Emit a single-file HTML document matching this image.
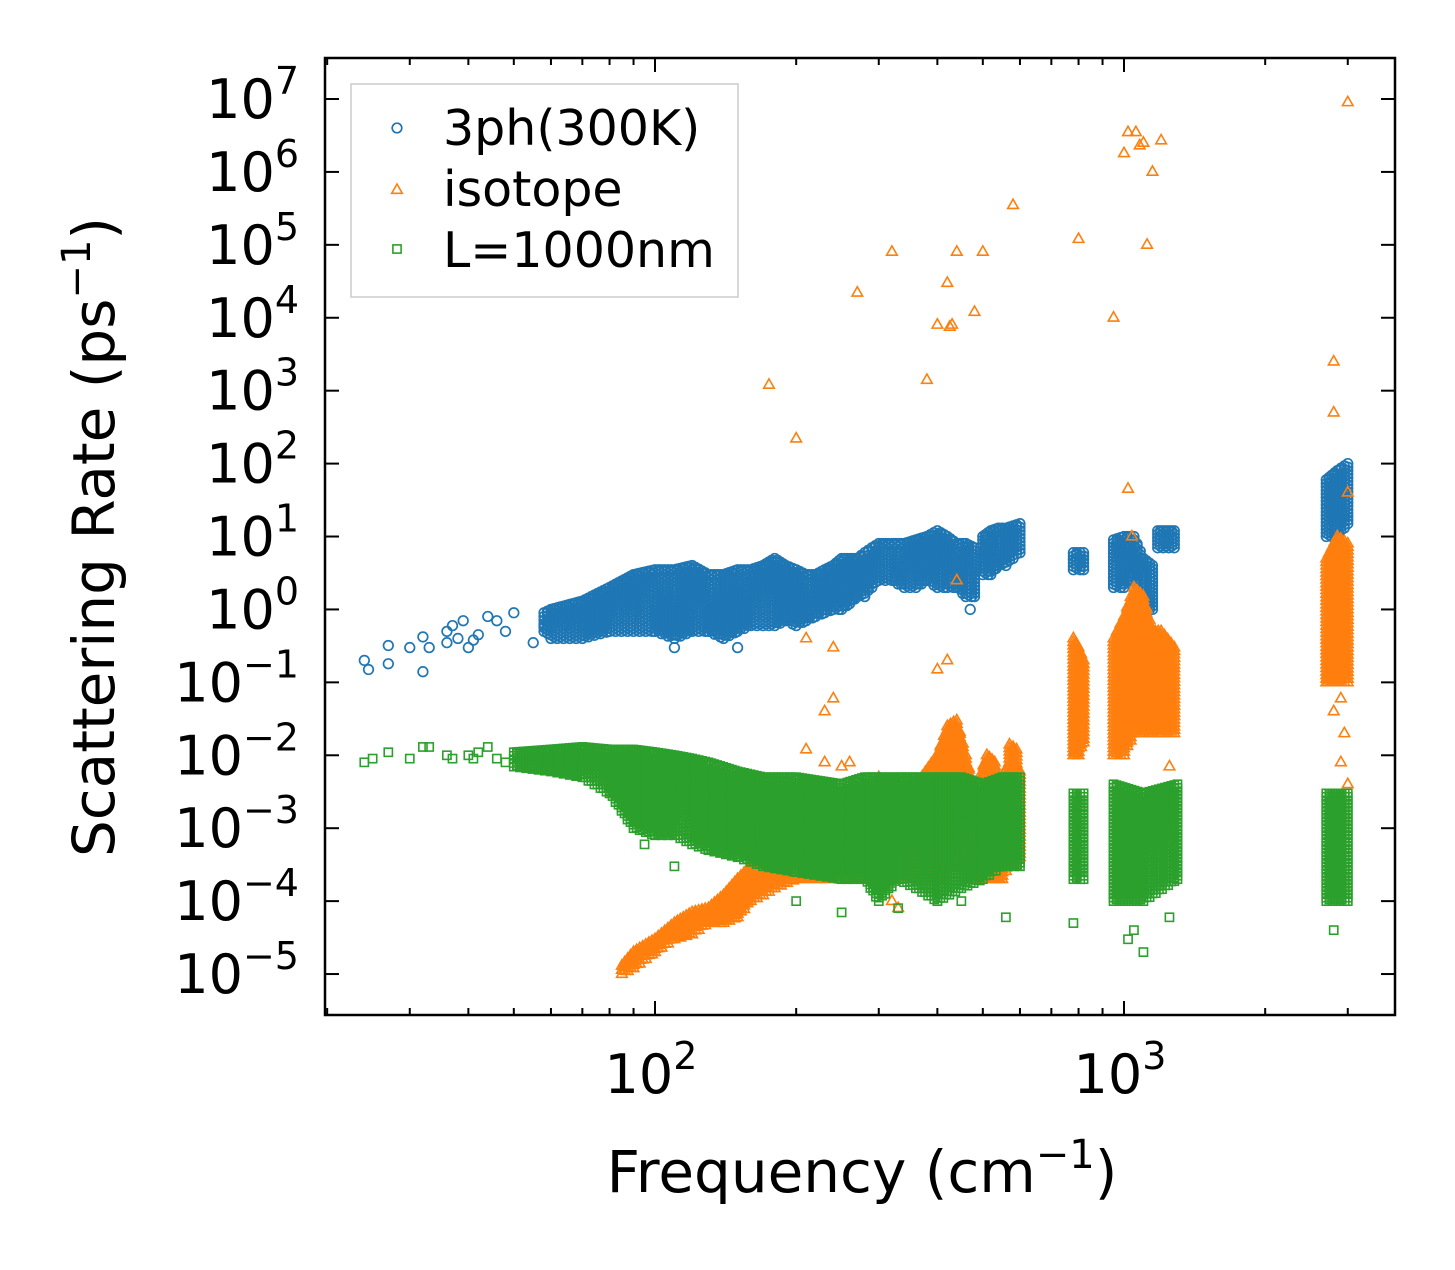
<!DOCTYPE html>
<html><head><meta charset="utf-8"><style>
body{margin:0;background:#fff;}
svg text{font-family:"DejaVu Sans","Liberation Sans",sans-serif;fill:#000;}
</style></head><body>
<svg id="chart" width="1455" height="1265" viewBox="0 0 1455 1265" xmlns="http://www.w3.org/2000/svg">
<g id="marks"></g>
<g id="axes"></g>
</svg>
<script>
// ---- data ----
const xTickExps=[2,3];
const yTickExps=[-5,-4,-3,-2,-1,0,1,2,3,4,5,6,7];
const phSparse=[[24,0.2],[24.5,0.15],[27,0.18],[27,0.32],[30,0.3],[32,0.42],[32,0.14],[33,0.3],[36,0.35],[36,0.5],[37,0.6],[38,0.4],[39,0.7],[40,0.3],[41,0.38],[42,0.45],[44,0.8],[46,0.7],[48,0.5],[50,0.9],[55,0.35],[58,0.6],[150,0.3],[110,0.3],[470,1.0]];
const phCloud1=[[58,0.5,0.9],[60,0.4,1.0],[70,0.4,1.3],[80,0.5,2],[90,0.5,3],[100,0.5,3.5],[110,0.4,3.5],[120,0.5,4],[130,0.5,3],[140,0.4,3],[150,0.5,3.5],[160,0.6,3.5],[170,0.6,4],[180,0.6,5],[190,0.7,4],[200,0.6,3.5],[210,0.7,3],[220,0.8,3],[230,0.9,3.5],[240,1,4],[250,1,5],[260,1.2,5],[270,1.5,5],[280,1.5,6],[290,2,7],[300,2.5,8],[320,2.5,8],[340,2,8],[360,2,9],[380,2.5,10],[400,2,12],[420,2,10],[440,2,8],[460,1.5,8],[480,1.5,7]];
const phCloud2=[[500,3,10],[520,3,12],[540,4,13],[560,4,13],[580,5,14],[600,6,15]];
const phCloud3=[[780,3.5,6],[820,3.5,6]];
const phCloud4=[[950,2,9],[1000,2,10],[1050,3,10],[1100,1,5],[1150,1,4]];
const phCloud5=[[1180,7,12],[1280,7,12]];
const phCloud6=[[2700,10,60],[2850,10,80],[3000,15,100]];
const isoSparse=[[175,1200],[200,220],[270,22000],[320,80000],[380,1400],[400,8000],[420,30000],[425,7500],[430,8000],[440,80000],[480,12000],[500,80000],[580,350000],[800,120000],[950,10000],[1000,1.8e6],[1020,3.5e6],[1060,3.5e6],[1080,2.3e6],[1100,2.5e6],[1120,1e5],[1150,1e6],[1200,2.7e6],[2800,2500],[2800,500],[3000,9e6],[3000,40],[1020,45],[1040,10],[400,0.15],[420,0.2],[440,2.5],[210,0.4],[240,0.3],[230,0.04],[240,0.06],[210,0.012],[230,0.008],[250,0.007],[260,0.008],[2800,0.04],[2900,0.06],[2950,0.02],[2900,0.008],[1250,0.007],[3000,0.004],[330,8e-5],[320,1e-4]];
const isoCloud1=[[85,1e-5,1.3e-5],[90,1.2e-5,2e-5],[100,2e-5,3e-5],[110,3e-5,5e-5],[120,3.5e-5,7e-5],[130,5e-5,8e-5],[140,5e-5,1.2e-4],[150,6e-5,2e-4],[160,1e-4,3e-4],[170,1.2e-4,5e-4],[180,1.5e-4,5e-4],[200,2e-4,6e-4],[250,2e-4,1e-3],[290,2e-4,2e-3],[300,1.5e-4,5e-3],[310,2e-4,2e-3],[350,2e-4,3e-3],[400,2e-4,1e-2],[420,3e-4,2.5e-2],[440,3e-4,3e-2],[460,3e-4,1e-2],[480,2e-4,3e-3],[510,2e-4,1e-2],[530,2e-4,8e-3],[550,2e-4,3e-3],[570,3e-4,1.4e-2],[590,3e-4,1.2e-2],[600,4e-4,6e-3]];
const isoCloud2=[[780,1e-2,0.4],[800,1e-2,0.3],[820,1.5e-2,0.2]];
const isoCloud3=[[950,1e-2,0.4],[1000,1e-2,0.8],[1050,2e-2,2],[1100,2e-2,1.5],[1150,2e-2,0.5],[1200,2e-2,0.5],[1280,2e-2,0.3]];
const isoCloud4=[[2700,0.1,5],[2850,0.1,10],[3000,0.1,8]];
const bSparse=[[24,8e-3],[25,9e-3],[27,1.1e-2],[30,9e-3],[32,1.3e-2],[33,1.3e-2],[36,1e-2],[37,9e-3],[40,1e-2],[41,9e-3],[42,1.1e-2],[44,1.3e-2],[46,9e-3],[48,8e-3],[780,5e-5],[1020,3e-5],[1050,4e-5],[1100,2e-5],[1250,6e-5],[2800,4e-5],[95,6e-4],[110,3e-4],[200,1e-4],[250,7e-5],[330,8e-5],[400,1e-4],[450,1e-4],[560,6e-5]];
const bCloud1=[[50,7e-3,1.1e-2],[60,6e-3,1.2e-2],[70,5e-3,1.3e-2],[80,3e-3,1.2e-2],[90,1e-3,1.2e-2],[100,8e-4,1.1e-2],[110,8e-4,1e-2],[120,6e-4,9e-3],[130,5e-4,8e-3],[150,4e-4,6e-3],[170,3e-4,5e-3],[200,2.5e-4,5e-3],[250,2e-4,4e-3],[280,2e-4,5e-3],[300,1e-4,5e-3],[330,2e-4,5e-3],[360,1.5e-4,5e-3],[400,1e-4,5e-3],[450,1.5e-4,5e-3],[500,2e-4,4e-3],[550,3e-4,5e-3],[600,3e-4,5e-3]];
const bCloud2=[[780,2e-4,3e-3],[820,2e-4,3e-3]];
const bCloud3=[[950,1e-4,4e-3],[1100,1e-4,3e-3],[1300,2e-4,4e-3]];
const bCloud4=[[2700,1e-4,3e-3],[3000,1e-4,3e-3]];
// ---- axes ----
const L=325,R=1395,T=58,B=1015;
const X=f=>655+469*(Math.log10(f)-2);
const Y=v=>99+72.92*(7-Math.log10(v));
const NS="http://www.w3.org/2000/svg";
const marks=document.getElementById('marks'),axes=document.getElementById('axes');
function mk(tag,attrs,parent){const e=document.createElementNS(NS,tag);for(const k in attrs)e.setAttribute(k,attrs[k]);parent.appendChild(e);return e;}
function marker(type,f,v,color,g){
  const x=X(f),y=Y(v);let e;
  if(type==='c'){e=mk('circle',{cx:x,cy:y,r:4.8,fill:'none',stroke:color,'stroke-width':1.7},g);}
  else if(type==='t'){e=mk('polygon',{points:`${x},${y-6} ${x+5.3},${y+3.3} ${x-5.3},${y+3.3}`,fill:'none',stroke:color,'stroke-width':1.6},g);}
  else {e=mk('rect',{x:x-4.1,y:y-4.1,width:8.2,height:8.2,fill:'none',stroke:color,'stroke-width':1.6},g);}
  
  
}
function cloud(type,env,color,g){
  for(let i=0;i<env.length;i++){
    const a=env[i],b=env[i+1]||env[i];
    const x0=X(a[0]),x1=X(b[0]);const n=Math.max(1,Math.round((x1-x0)/3));
    const last=(i===env.length-1);
    for(let k=0;k<(last?1:n);k++){
      const t=k/n;const f=Math.pow(10,Math.log10(a[0])+t*(Math.log10(b[0])-Math.log10(a[0])));
      const lo=Math.log10(a[1])+t*(Math.log10(b[1])-Math.log10(a[1]));
      const hi=Math.log10(a[2])+t*(Math.log10(b[2])-Math.log10(a[2]));
      const steps=Math.max(1,Math.round((hi-lo)*72.92/3.5));
      for(let s=0;s<=steps;s++){const off=((k%2)?0.5:0);const q=Math.min(1,(s+off)/steps);marker(type,f,Math.pow(10,lo+q*(hi-lo)),color,g);}
    }
  }
}
const blue='#1f77b4',orange='#ff7f0e',green='#2ca02c';
const gB=mk('g',{},marks);
phSparse.forEach(p=>marker('c',p[0],p[1],blue,gB));
[phCloud1,phCloud2,phCloud3,phCloud4,phCloud5,phCloud6].forEach(c=>cloud('c',c,blue,gB));
const gO=mk('g',{},marks);
isoSparse.forEach(p=>marker('t',p[0],p[1],orange,gO));
[isoCloud1,isoCloud2,isoCloud3,isoCloud4].forEach(c=>cloud('t',c,orange,gO));
const gG=mk('g',{},marks);
bSparse.forEach(p=>marker('s',p[0],p[1],green,gG));
[bCloud1,bCloud2,bCloud3,bCloud4].forEach(c=>cloud('s',c,green,gG));
// frame
const fr=mk('rect',{x:L,y:T,width:R-L,height:B-T,fill:'none',stroke:'#000','stroke-width':2.5},axes);

// x ticks
for(let e=1;e<=3;e++)for(let m=1;m<=9;m++){const f=m*Math.pow(10,e);const x=X(f);if(x<L||x>R)continue;
  const len=m===1?14:7;
  const t1=mk('line',{x1:x,y1:B,x2:x,y2:B-len,stroke:'#000','stroke-width':2},axes);
  const t2=mk('line',{x1:x,y1:T,x2:x,y2:T+len,stroke:'#000','stroke-width':2},axes);}
xTickExps.forEach(e=>{const t=mk('text',{x:X(Math.pow(10,e))-4,y:1093,'font-size':54,'text-anchor':'middle'},axes);
  
  t.innerHTML=`10<tspan dy="-24" font-size="38">${e}</tspan>`;});
yTickExps.forEach(e=>{const y=Y(Math.pow(10,e));
  const t1=mk('line',{x1:L,y1:y,x2:L+14,y2:y,stroke:'#000','stroke-width':2},axes);
  const t2=mk('line',{x1:R,y1:y,x2:R-14,y2:y,stroke:'#000','stroke-width':2},axes);
  const lab=e<0?'\u2212'+(-e):''+e;
  const t=mk('text',{x:299,y:y+19,'font-size':54,'text-anchor':'end'},axes);
  
  t.innerHTML=`10<tspan dy="-24" font-size="38">${lab}</tspan>`;});
</script>
<svg style="position:absolute;left:0;top:0" width="1455" height="1265">
<text x="862" y="1192" font-size="58" text-anchor="middle">Frequency (cm<tspan dy="-24" font-size="40">−1</tspan><tspan dy="24">)</tspan></text>
<text transform="translate(114,537) rotate(-90)" font-size="58" text-anchor="middle">Scattering Rate (ps<tspan dy="-24" font-size="40">−1</tspan><tspan dy="24">)</tspan></text>
<g>
<rect x="351" y="84" width="387" height="213" fill="#fff" fill-opacity="0.8" stroke="#ccc" stroke-width="1.5"/>
<circle cx="397" cy="128" r="4.8" fill="none" stroke="#1f77b4" stroke-width="1.7"/>
<text x="443" y="145" font-size="49">3ph(300K)</text>
<polygon points="397,184 402.3,193.3 391.7,193.3" fill="none" stroke="#ff7f0e" stroke-width="1.6"/>
<text x="443" y="206" font-size="49">isotope</text>
<rect x="392.9" y="244.9" width="8.2" height="8.2" fill="none" stroke="#2ca02c" stroke-width="1.6"/>
<text x="443" y="267" font-size="49">L=1000nm</text>
</g>
</svg>
</body></html>
